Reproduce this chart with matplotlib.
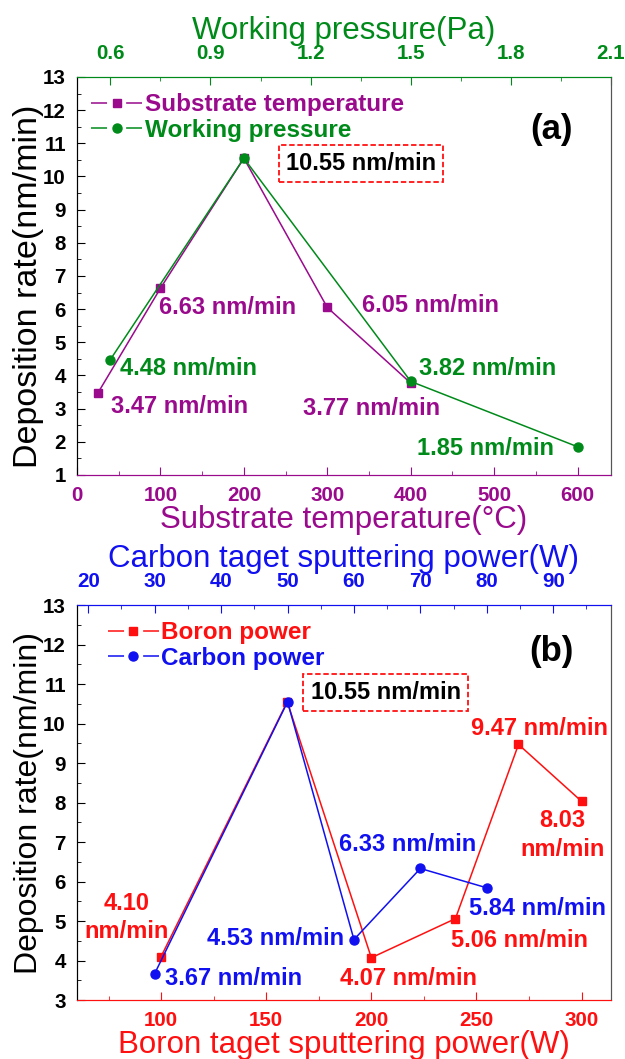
import numpy as np
import matplotlib
matplotlib.use('Agg')
import matplotlib.pyplot as plt
from matplotlib.ticker import MultipleLocator
from matplotlib.lines import Line2D
from matplotlib.legend_handler import HandlerTuple

plt.rcParams['font.family'] = ['Liberation Sans', 'DejaVu Sans']

# panel (a) data
temp = [25, 100, 200, 300, 400]
temp_rate = [3.47, 6.63, 10.55, 6.05, 3.77]
pressure = [0.6, 1.0, 1.5, 2.0]
pressure_rate = [4.48, 10.55, 3.82, 1.85]

# panel (b) data
boron_power = [100, 160, 200, 240, 270, 300]
boron_rate = [4.10, 10.55, 4.07, 5.06, 9.47, 8.03]
carbon_power = [30, 50, 60, 70, 80]
carbon_rate = [3.67, 10.55, 4.53, 6.33, 5.84]

purple = '#990a8c'
green = '#008a1a'
red = '#ff1010'
blue = '#1010f0'

tick_fs = 14.8
label_fs = 22.5
ann_fs = 17
leg_fs = 17.5


def style_axes(ax, top, bottom_color, top_color):
    for a in (ax, top):
        a.spines['bottom'].set_color(bottom_color)
        a.spines['top'].set_color(top_color)
        a.spines['left'].set_color('black')
        a.spines['right'].set_color('#555555')
    ax.tick_params(axis='x', which='both', direction='in', colors=bottom_color,
                   labelsize=tick_fs, pad=8)
    ax.tick_params(axis='x', which='major', length=6)
    ax.tick_params(axis='x', which='minor', length=3)
    ax.tick_params(axis='y', which='both', direction='in', colors='black',
                   labelsize=tick_fs, pad=8)
    ax.tick_params(axis='y', which='major', length=6)
    ax.tick_params(axis='y', which='minor', length=3)
    top.tick_params(axis='x', which='both', direction='in', colors=top_color,
                    labelsize=tick_fs, pad=10)
    top.tick_params(axis='x', which='major', length=6)
    top.tick_params(axis='x', which='minor', length=3)
    for lbl in ax.get_xticklabels() + ax.get_yticklabels() + top.get_xticklabels():
        lbl.set_fontweight('bold')


def legend_handle(color, marker, ms):
    # line - gap - marker - gap - line, like the original legend
    seg = Line2D([], [], color=color, lw=1.1, linestyle=(0, (10.5, 12.5)))
    mk = Line2D([], [], color=color, ls='none', marker=marker, ms=ms)
    return (seg, mk)


def add_legend(ax, labels, colors, markers, anchor):
    handles = [legend_handle(c, m, 6 if m == 's' else 6.5) for c, m in zip(colors, markers)]
    leg = ax.legend(handles=handles, labels=labels, loc='upper left',
                    bbox_to_anchor=anchor, frameon=False, borderpad=0,
                    handlelength=2.1, handletextpad=0.1, labelspacing=0.1,
                    handler_map={tuple: HandlerTuple(ndivide=1)},
                    prop={'weight': 'bold', 'size': leg_fs})
    for txt, c in zip(leg.get_texts(), colors):
        txt.set_color(c)
    return leg


fig = plt.figure(figsize=(6.25, 10.59), dpi=100)

# ---------------- panel (a) ----------------
ax = fig.add_axes([0.1232, 0.5515, 0.8544, 0.3758])
top = ax.twiny()
ax.set_xlim(0, 640)
ax.set_ylim(1, 13)
top.set_xlim(0.5, 2.1)
ax.xaxis.set_major_locator(MultipleLocator(100))
ax.xaxis.set_minor_locator(MultipleLocator(50))
ax.yaxis.set_major_locator(MultipleLocator(1))
ax.yaxis.set_minor_locator(MultipleLocator(0.5))
top.xaxis.set_minor_locator(MultipleLocator(0.15))
top.set_xticks(np.arange(0.6, 2.11, 0.3))
top.set_xticklabels(['0.6', '0.9', '1.2', '1.5', '1.8', '2.1'])

ax.plot(temp, temp_rate, '-s', color=purple, lw=1.1, ms=6)
top.plot(pressure, pressure_rate, '-o', color=green, lw=1.1, ms=6.5)
style_axes(ax, top, purple, green)

ax.set_xlabel('Substrate temperature(°C)', fontsize=label_fs, color=purple, labelpad=0)
top.set_xlabel('Working pressure(Pa)', fontsize=label_fs, color=green, labelpad=4)
ax.set_ylabel('Deposition rate(nm/min)', fontsize=24.5)
ax.yaxis.set_label_coords(-0.062, 0.475)

add_legend(ax, ['Substrate temperature', 'Working pressure'], [purple, green],
           ['s', 'o'], (0.004, 0.99))

ax.text(569, 11.42, '(a)', fontsize=25, fontweight='bold', ha='center', va='center')
ax.text(340, 10.38, '10.55 nm/min', fontsize=ann_fs, fontweight='bold', ha='center',
        va='center', bbox=dict(boxstyle='square,pad=0.3', fc='white', ec=red,
                                ls=(0, (3, 1.5)), lw=1.3))
ax.text(98, 6.05, '6.63 nm/min', fontsize=ann_fs, fontweight='bold', color=purple, va='center')
ax.text(341, 6.1, '6.05 nm/min', fontsize=ann_fs, fontweight='bold', color=purple, va='center')
ax.text(52, 4.22, '4.48 nm/min', fontsize=ann_fs, fontweight='bold', color=green, va='center')
ax.text(41, 3.06, '3.47 nm/min', fontsize=ann_fs, fontweight='bold', color=purple, va='center')
ax.text(410, 4.22, '3.82 nm/min', fontsize=ann_fs, fontweight='bold', color=green, va='center')
ax.text(271, 3.0, '3.77 nm/min', fontsize=ann_fs, fontweight='bold', color=purple, va='center')
ax.text(408, 1.8, '1.85 nm/min', fontsize=ann_fs, fontweight='bold', color=green, va='center')

# ---------------- panel (b) ----------------
bx = fig.add_axes([0.1232, 0.0557, 0.8544, 0.373])
btop = bx.twiny()
bx.set_xlim(60, 314)
bx.set_ylim(3, 13)
btop.set_xlim(18.3, 98.7)
bx.xaxis.set_major_locator(MultipleLocator(50))
bx.xaxis.set_minor_locator(MultipleLocator(25))
bx.yaxis.set_major_locator(MultipleLocator(1))
bx.yaxis.set_minor_locator(MultipleLocator(0.5))
btop.xaxis.set_major_locator(MultipleLocator(10))
btop.xaxis.set_minor_locator(MultipleLocator(5))

bx.plot(boron_power, boron_rate, '-s', color=red, lw=1.1, ms=6)
btop.plot(carbon_power, carbon_rate, '-o', color=blue, lw=1.1, ms=6.5)
style_axes(bx, btop, red, blue)

bx.set_xlabel('Boron taget sputtering power(W)', fontsize=label_fs, color=red, labelpad=0)
btop.set_xlabel('Carbon taget sputtering power(W)', fontsize=label_fs, color=blue, labelpad=4)
bx.set_ylabel('Deposition rate(nm/min)', fontsize=23)
bx.yaxis.set_label_coords(-0.062, 0.5)

add_legend(bx, ['Boron power', 'Carbon power'], [red, blue], ['s', 'o'], (0.035, 0.99))

bx.text(285.5, 11.83, '(b)', fontsize=25, fontweight='bold', ha='center', va='center')
bx.text(206.8, 10.78, '10.55 nm/min', fontsize=ann_fs, fontweight='bold', ha='center',
        va='center', bbox=dict(boxstyle='square,pad=0.3', fc='white', ec=red,
                                ls=(0, (3, 1.5)), lw=1.3))
bx.text(279.8, 9.88, '9.47 nm/min', fontsize=ann_fs, fontweight='bold', color=red,
        ha='center', va='center')
bx.text(291, 7.18, '8.03\nnm/min', fontsize=ann_fs, fontweight='bold', color=red,
        ha='center', va='center', linespacing=1.3)
bx.text(217.3, 6.93, '6.33 nm/min', fontsize=ann_fs, fontweight='bold', color=blue,
        ha='center', va='center')
bx.text(83.8, 5.09, '4.10\nnm/min', fontsize=ann_fs, fontweight='bold', color=red,
        ha='center', va='center', linespacing=1.3)
bx.text(154.6, 4.55, '4.53 nm/min', fontsize=ann_fs, fontweight='bold', color=blue,
        ha='center', va='center')
bx.text(134.7, 3.55, '3.67 nm/min', fontsize=ann_fs, fontweight='bold', color=blue,
        ha='center', va='center')
bx.text(217.5, 3.55, '4.07 nm/min', fontsize=ann_fs, fontweight='bold', color=red,
        ha='center', va='center')
bx.text(270.3, 4.5, '5.06 nm/min', fontsize=ann_fs, fontweight='bold', color=red,
        ha='center', va='center')
bx.text(279, 5.32, '5.84 nm/min', fontsize=ann_fs, fontweight='bold', color=blue,
        ha='center', va='center')

fig.savefig('out.png', dpi=100)
